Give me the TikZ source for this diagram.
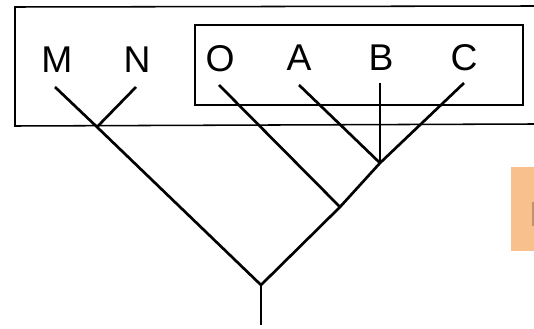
\documentclass[tikz,border=0pt]{standalone}
\usepackage{fontspec}
\setmainfont{Liberation Sans}
\definecolor{tagorange}{RGB}{248,192,140}
\definecolor{tagmark}{RGB}{190,146,106}
\usetikzlibrary{positioning}

\begin{document}
\begin{tikzpicture}[x=0.05cm, y=-0.05cm,
  taxon/.style={font=\fontsize{53}{53}\selectfont, inner sep=0pt, anchor=base},
  branch/.style={line width=3.8pt},
  frame/.style={line width=2.2pt}]
  \useasboundingbox (0,0) rectangle (534,329);

  % Frames
  \draw[frame] (534,6) -- (15,7) -- (15,126) -- (534,124);
  \draw[frame] (195,25) rectangle (523,105);

  % Taxa
  \node[taxon] (M) at (57,73) {M};
  \node[taxon] (N) at (137,73) {N};
  \node[taxon] (O) at (220,72) {O};
  \node[taxon] (A) at (299,71) {A};
  \node[taxon] (B) at (381,71) {B};
  \node[taxon] (C) at (464,71) {C};

  % Branch tips and nodes
  \coordinate (tM) at (55,87);
  \coordinate (tN) at (136,87);
  \coordinate (tO) at (219,85);
  \coordinate (tA) at (299,85);
  \coordinate (tB) at (380,83);
  \coordinate (tC) at (464,83);
  \coordinate (mn) at (97,127);
  \coordinate (abc) at (380,163);
  \coordinate (oabc) at (340,207);
  \coordinate (root) at (261,285);
  \coordinate (stem) at (261,325);

  % Tree
  \draw[branch] (tM) -- (mn) -- (root) -- (oabc) -- (abc) -- (tC);
  \draw[branch] (tN) -- (mn);
  \draw[branch] (tO) -- (oabc);
  \draw[branch] (tA) -- (abc);
  \draw[branch] (tB) -- (abc);
  \draw[branch] (root) -- (stem);

  % Tag at the right edge
  \fill[tagorange] (511,167) rectangle (534,251);
  \fill[tagmark] (532,202) rectangle (534,226);
\end{tikzpicture}
\end{document}
